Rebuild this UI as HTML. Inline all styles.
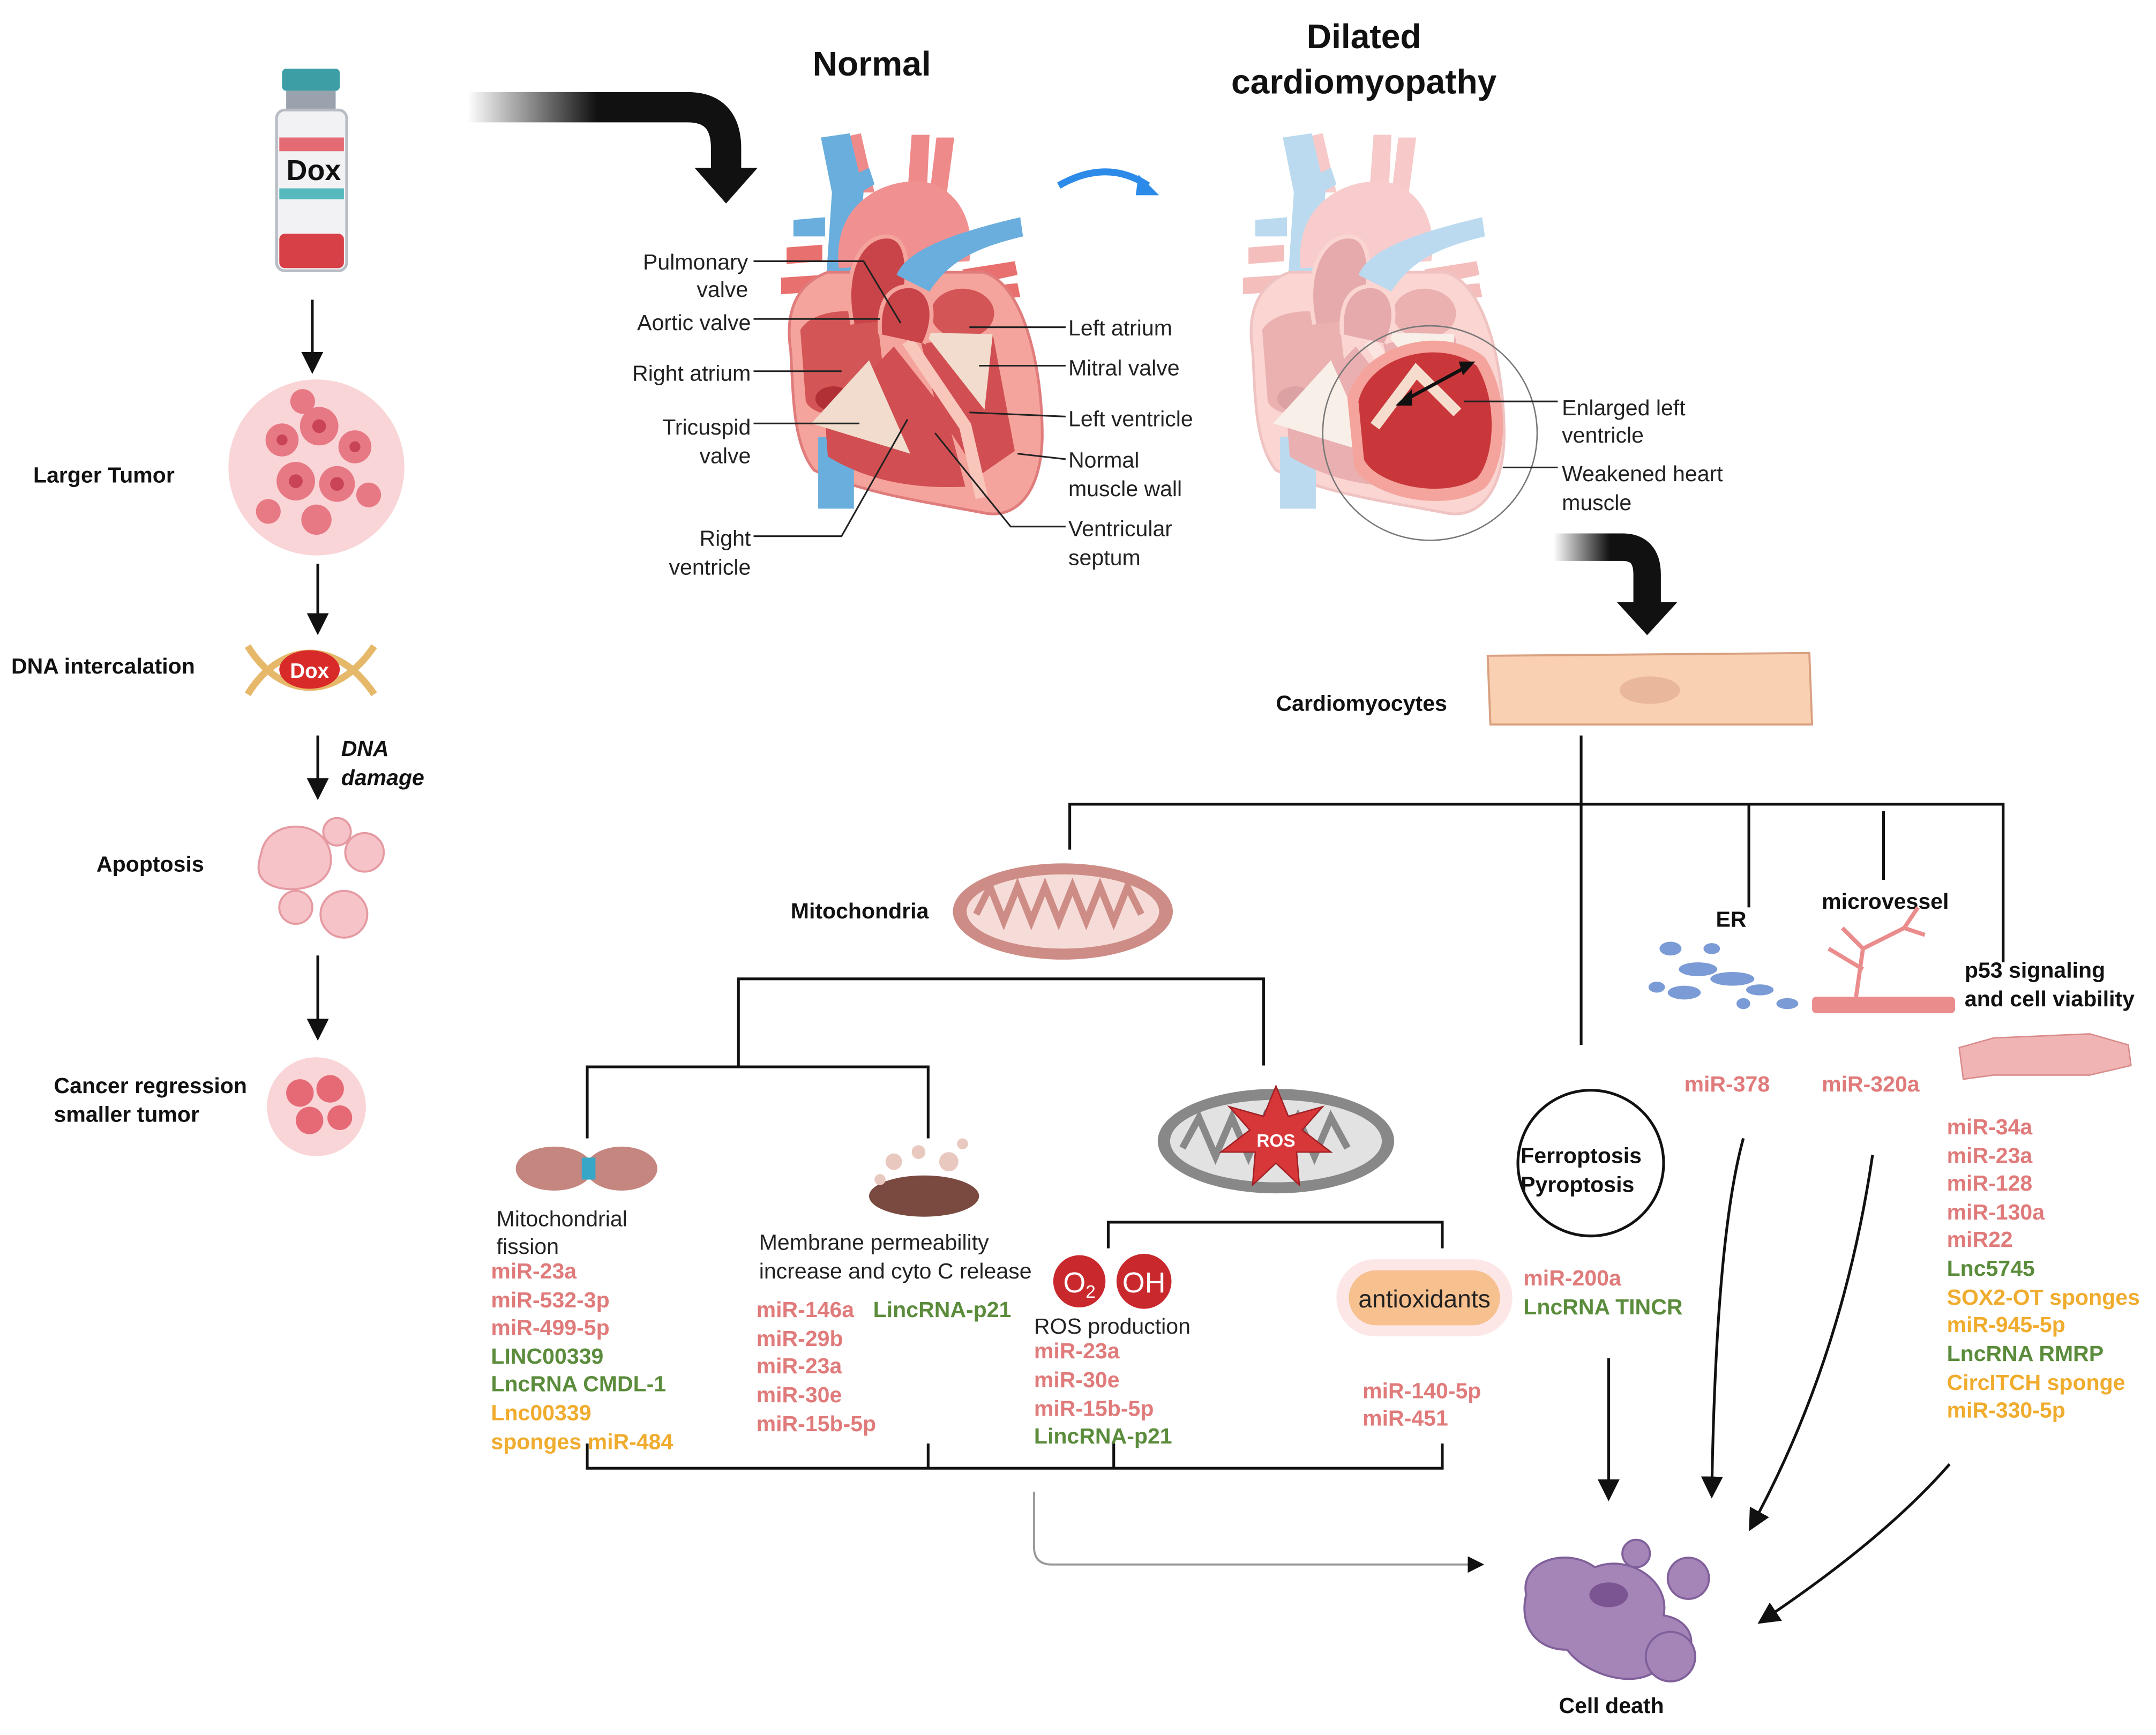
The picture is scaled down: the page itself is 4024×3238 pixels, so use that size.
<!DOCTYPE html>
<html><head><meta charset="utf-8"><style>
html,body{margin:0;padding:0;background:#fff}
svg{display:block}
text{font-family:"Liberation Sans",sans-serif}
.b{font-weight:bold;font-size:16px;fill:#111}
.l{font-size:16px;fill:#222}
.p{font-weight:bold;font-size:16px;fill:#e07b7b}
.g{font-weight:bold;font-size:16px;fill:#5b8c3c}
.o{font-weight:bold;font-size:16px;fill:#f0ac2e}
.ln{stroke:#111;stroke-width:2;fill:none}
.th{stroke:#222;stroke-width:1.2;fill:none}
</style></head><body>
<svg width="4024" height="3238" viewBox="0 0 1568 1262" xmlns="http://www.w3.org/2000/svg">
<defs>
<marker id="a" markerWidth="8" markerHeight="8" refX="7" refY="4" orient="auto"><path d="M0,0 L8,4 L0,8 z" fill="#111"/></marker>
<linearGradient id="gr" x1="0" x2="1"><stop offset="0" stop-color="#111" stop-opacity="0"/><stop offset="0.5" stop-color="#111"/></linearGradient>
<linearGradient id="gr2" x1="0" x2="1"><stop offset="0" stop-color="#111" stop-opacity="0"/><stop offset="0.6" stop-color="#111"/></linearGradient>
<g id="heart">
<!-- arteries top -->
<path d="M620,140 L612,100 L626,97 L636,140 Z" fill="#ef8a8a"/>
<path d="M660,140 L663,98 L676,98 L674,140 Z" fill="#ef8a8a"/>
<path d="M676,142 L681,100 L694,100 L688,145 Z" fill="#ef8a8a"/>
<path d="M572,180 L598,178 L598,190 L572,192 Z" fill="#e8706f"/>
<path d="M568,202 L598,200 L598,212 L568,214 Z" fill="#e8706f"/>
<path d="M700,196 L738,190 L740,200 L702,208 Z" fill="#e8706f"/>
<path d="M700,210 L740,206 L742,216 L702,220 Z" fill="#e8706f"/>
<!-- SVC blue -->
<path d="M597,100 L618,97 L628,140 L622,215 L600,215 L605,140 Z" fill="#6aaedd"/>
<path d="M577,160 L600,158 L600,172 L577,172 Z" fill="#6aaedd"/>
<path d="M620,128 L632,122 L636,134 L626,140 Z" fill="#6aaedd"/>
<!-- aortic arch -->
<path d="M610,195 C605,150 640,130 670,132 C695,135 710,160 705,190 Z" fill="#f19090"/>
<!-- body -->
<path d="M575,255 C570,222 583,205 602,198 L715,198 C742,205 758,260 758,318 C757,360 738,378 715,373 C680,366 630,360 592,342 C576,322 577,285 575,255 Z" fill="#f4a49c" stroke="#e07c7c" stroke-width="2"/>
<!-- IVC -->
<rect x="595" y="318" width="26" height="52" fill="#6aaedd"/>
<!-- chambers -->
<path d="M582,240 C590,226 620,222 638,232 L645,292 C622,305 592,305 586,292 Z" fill="#d35555"/>
<ellipse cx="606" cy="290" rx="13" ry="9" fill="#b03035"/>
<path d="M600,305 L650,252 L688,300 L702,354 C660,356 628,348 602,332 Z" fill="#d14f52"/>
<ellipse cx="700" cy="228" rx="23" ry="18" fill="#d35555"/>
<path d="M670,250 L722,243 L738,328 L712,346 L682,300 Z" fill="#d14f52"/>
<polygon points="590,308 632,262 662,330" fill="#f1dccd"/>
<polygon points="672,242 722,243 716,298" fill="#f1dccd"/>
<path d="M660,248 L702,310 L714,362" stroke="#f9c6bc" stroke-width="9" fill="none"/>
<!-- outflow loops -->
<path d="M620,236 C612,200 625,172 645,172 C662,172 662,200 655,232" fill="#c94448" stroke="#f4a49c" stroke-width="3"/>
<path d="M640,243 C638,215 650,208 662,208 C678,210 682,230 672,250" fill="#c94448" stroke="#f4a49c" stroke-width="3"/>
<!-- pulmonary artery blue -->
<path d="M652,200 C660,180 700,168 742,158 L744,172 C710,180 690,190 676,212 Z" fill="#6aaedd"/>
</g>
</defs>
<rect width="1568" height="1262" fill="#fff"/>

<!-- Vial -->
<rect x="205" y="50" width="42" height="16" rx="3" fill="#3e9ea5"/>
<rect x="208" y="66" width="36" height="14" fill="#9aa3ad"/>
<rect x="201" y="80" width="51" height="117" rx="6" fill="#f2f2f4" stroke="#b8bcc4" stroke-width="2"/>
<rect x="203" y="100" width="47" height="10" fill="#e46b74"/>
<rect x="203" y="137" width="47" height="8" fill="#55b9bd"/>
<rect x="203" y="170" width="47" height="25" rx="4" fill="#d84048"/>
<text x="228" y="131" text-anchor="middle" style="font-weight:bold;font-size:21px;fill:#111">Dox</text>
<line x1="227" y1="218" x2="227" y2="270" class="ln" stroke-width="1.5" marker-end="url(#a)"/>

<!-- tumor -->
<circle cx="230" cy="340" r="64" fill="#f9d5d7"/>
<g fill="#e56a76" opacity="0.85">
<circle cx="205" cy="320" r="12"/><circle cx="232" cy="310" r="14"/><circle cx="258" cy="325" r="12"/><circle cx="215" cy="350" r="14"/><circle cx="245" cy="352" r="13"/><circle cx="230" cy="378" r="11"/><circle cx="195" cy="372" r="9"/><circle cx="268" cy="360" r="9"/><circle cx="220" cy="292" r="9"/></g>
<g fill="#c94455"><circle cx="232" cy="310" r="5"/><circle cx="215" cy="350" r="5"/><circle cx="245" cy="352" r="5"/><circle cx="205" cy="320" r="4"/><circle cx="258" cy="325" r="4"/></g>
<text x="24" y="351" class="b">Larger Tumor</text>
<line x1="231" y1="410" x2="231" y2="460" class="ln" stroke-width="1.5" marker-end="url(#a)"/>

<!-- DNA -->
<path d="M180,470 C205,510 245,510 272,470" stroke="#e6b86a" stroke-width="5" fill="none"/>
<path d="M180,505 C205,465 245,465 272,505" stroke="#e6b86a" stroke-width="5" fill="none"/>
<ellipse cx="225" cy="487" rx="22" ry="14" fill="#d92a2a"/>
<text x="225" y="493" text-anchor="middle" style="font-weight:bold;font-size:15px;fill:#fff">Dox</text>
<text x="8" y="490" class="b">DNA intercalation</text>
<line x1="231" y1="535" x2="231" y2="580" class="ln" stroke-width="1.5" marker-end="url(#a)"/>
<text x="248" y="550" class="b" font-style="italic">DNA</text>
<text x="248" y="571" class="b" font-style="italic">damage</text>

<!-- apoptosis -->
<g fill="#f6c4c8" stroke="#e59aa2" stroke-width="1.5">
<path d="M190,620 C195,595 235,595 240,620 C245,645 215,650 200,645 C185,640 187,630 190,620z"/>
<circle cx="265" cy="620" r="14"/><circle cx="245" cy="605" r="10"/><circle cx="250" cy="665" r="17"/><circle cx="215" cy="660" r="12"/></g>
<text x="70" y="634" class="b">Apoptosis</text>
<line x1="231" y1="695" x2="231" y2="755" class="ln" stroke-width="1.5" marker-end="url(#a)"/>
<text x="39" y="795" class="b">Cancer regression</text>
<text x="39" y="816" class="b">smaller tumor</text>
<circle cx="230" cy="805" r="36" fill="#f9d5d7"/>
<g fill="#e56a76"><circle cx="218" cy="795" r="10"/><circle cx="240" cy="792" r="10"/><circle cx="225" cy="815" r="10"/><circle cx="247" cy="813" r="9"/></g>

<!-- big arrow 1 -->
<path d="M340,78 L500,78 Q528,78 528,108 L528,125" stroke="url(#gr)" stroke-width="22" fill="none"/>
<path d="M505,122 L551,122 L528,148 z" fill="#111"/>
<text x="634" y="55" text-anchor="middle" style="font-weight:bold;font-size:25px;fill:#111">Normal</text>
<text x="992" y="35" text-anchor="middle" style="font-weight:bold;font-size:25px;fill:#111">Dilated</text>
<text x="992" y="68" text-anchor="middle" style="font-weight:bold;font-size:25px;fill:#111">cardiomyopathy</text>
<path d="M770,135 Q805,115 835,135" stroke="#2c8ae8" stroke-width="5" fill="none"/>
<path d="M828,127 L843,142 L826,142 z" fill="#2c8ae8"/>

<!-- normal heart -->
<use href="#heart"/>
<g class="th">
<path d="M548,190 L628,190 L655,235"/><path d="M548,232 L640,232"/><path d="M548,270 L612,270"/>
<path d="M548,308 L625,308"/><path d="M548,390 L612,390 L660,305"/>
<path d="M775,238 L705,238"/><path d="M775,266 L712,266"/><path d="M775,303 L705,300"/><path d="M775,334 L740,330"/><path d="M775,383 L735,383 L680,315"/>
</g>
<g class="l" text-anchor="end">
<text x="544" y="196">Pulmonary</text><text x="544" y="216">valve</text>
<text x="546" y="240">Aortic valve</text><text x="546" y="277">Right atrium</text>
<text x="546" y="316">Tricuspid</text><text x="546" y="337">valve</text>
<text x="546" y="397">Right</text><text x="546" y="418">ventricle</text></g>
<g class="l"><text x="777" y="244">Left atrium</text><text x="777" y="273">Mitral valve</text><text x="777" y="310">Left ventricle</text>
<text x="777" y="340">Normal</text><text x="777" y="361">muscle wall</text><text x="777" y="390">Ventricular</text><text x="777" y="411">septum</text></g>

<!-- dilated heart -->
<g opacity="0.45"><use href="#heart" transform="translate(336,0)"/></g>
<circle cx="1040" cy="315" r="78" fill="none" stroke="#777" stroke-width="1"/>
<path d="M980,290 C990,250 1050,235 1080,260 C1100,290 1095,340 1080,355 C1050,375 995,360 985,340z" fill="#f4a49c"/>
<path d="M988,292 C996,258 1048,246 1074,266 C1090,292 1087,334 1074,348 C1048,364 1000,352 992,334z" fill="#c9373b"/>
<path d="M1000,310 L1030,270 L1060,300" stroke="#f6dccd" stroke-width="8" fill="none"/>
<line x1="1020" y1="292" x2="1068" y2="266" stroke="#111" stroke-width="2.5"/>
<path d="M1015,295 L1027,283 L1027,295z M1073,263 L1061,263 L1064,273z" fill="#111"/>
<path d="M1065,292 L1133,292 M1093,340 L1133,340" class="th"/>
<g class="l"><text x="1136" y="302">Enlarged left</text><text x="1136" y="322">ventricle</text><text x="1136" y="350">Weakened heart</text><text x="1136" y="371">muscle</text></g>

<!-- arrow 2 -->
<path d="M1130,398 L1180,398 Q1198,398 1198,418 L1198,440" stroke="url(#gr2)" stroke-width="20" fill="none"/>
<path d="M1176,438 L1220,438 L1198,462 z" fill="#111"/>
<text x="928" y="517" class="b">Cardiomyocytes</text>
<path d="M1082,477 L1316,475 L1318,527 L1084,527 z" fill="#f9d0b2" stroke="#d9a080" stroke-width="1.5"/>
<ellipse cx="1200" cy="502" rx="22" ry="10" fill="#e9b89a"/>

<!-- tree lines -->
<g class="ln" stroke-width="1.8">
<path d="M1150,535 L1150,760"/><path d="M778,618 L778,585 L1457,585 L1457,700"/><path d="M1272,585 L1272,660"/><path d="M1370,590 L1370,640"/>
<path d="M537,775 L537,712 L919,712 L919,775"/><path d="M427,828 L427,776 L675,776 L675,828"/>
<path d="M806,908 L806,889 L1049,889 L1049,908"/>
<path d="M427,1050 L427,1068 L1049,1068 L1049,1050 M675,1050 L675,1068 M810,1050 L810,1068"/>
</g>
<path d="M752,1085 L752,1125 Q752,1138 765,1138 L1078,1138" stroke="#999" stroke-width="1.5" fill="none" marker-end="url(#a)"/>

<!-- mitochondria -->
<text x="575" y="668" class="b">Mitochondria</text>
<ellipse cx="773" cy="663" rx="80" ry="35" fill="#cd8d86"/>
<ellipse cx="773" cy="663" rx="70" ry="27" fill="#f6dcd8"/>
<path d="M710,665 l10,-20 l10,25 l10,-25 l10,25 l10,-25 l10,25 l10,-25 l10,25 l10,-25 l10,25 l10,-25 l10,20" stroke="#cd8d86" stroke-width="5" fill="none"/>

<!-- fission -->
<ellipse cx="403" cy="850" rx="28" ry="16" fill="#c5867f"/><ellipse cx="452" cy="850" rx="26" ry="16" fill="#c5867f"/>
<rect x="423" y="842" width="10" height="16" fill="#37a7c8"/>
<text x="361" y="892" class="l">Mitochondrial</text><text x="361" y="912" class="l">fission</text>
<text x="357" y="930" class="p">miR-23a</text><text x="357" y="951" class="p">miR-532-3p</text><text x="357" y="971" class="p">miR-499-5p</text>
<text x="357" y="992" class="g">LINC00339</text><text x="357" y="1012" class="g">LncRNA CMDL-1</text>
<text x="357" y="1033" class="o">Lnc00339</text><text x="357" y="1054" class="o">sponges miR-484</text>

<!-- membrane -->
<ellipse cx="672" cy="870" rx="40" ry="15" fill="#7a4a40"/>
<g fill="#e9c8c0"><circle cx="650" cy="845" r="6"/><circle cx="668" cy="838" r="5"/><circle cx="690" cy="845" r="7"/><circle cx="700" cy="832" r="4"/><circle cx="640" cy="858" r="4"/></g>
<text x="552" y="909" class="l">Membrane permeability</text><text x="552" y="930" class="l">increase and cyto C release</text>
<text x="550" y="958" class="p">miR-146a</text><text x="635" y="958" class="g">LincRNA-p21</text>
<text x="550" y="979" class="p">miR-29b</text><text x="550" y="999" class="p">miR-23a</text><text x="550" y="1020" class="p">miR-30e</text><text x="550" y="1041" class="p">miR-15b-5p</text>

<!-- ROS mito -->
<ellipse cx="928" cy="830" rx="86" ry="38" fill="#888"/>
<ellipse cx="928" cy="830" rx="77" ry="30" fill="#e2e2e2"/>
<path d="M860,835 l12,-22 l12,28 l12,-28 l12,28 l12,-28 l12,28 l12,-28 l12,28 l12,-28 l12,22" stroke="#888" stroke-width="5" fill="none"/>
<polygon points="928,790 937,812 962,805 947,822 968,838 943,838 945,862 928,846 911,862 913,838 888,838 909,822 894,805 919,812" fill="#d8373a" stroke="#a02025"/>
<text x="928" y="834" text-anchor="middle" style="font-weight:bold;font-size:13px;fill:#fff">ROS</text>
<circle cx="785" cy="932" r="19" fill="#c9282d"/><circle cx="832" cy="932" r="20" fill="#c9282d"/>
<text x="785" y="940" text-anchor="middle" style="font-size:21px;fill:#fff">O<tspan font-size="13" dy="4">2</tspan></text>
<text x="832" y="940" text-anchor="middle" style="font-size:21px;fill:#fff">OH</text>
<text x="752" y="970" class="l">ROS production</text>
<text x="752" y="988" class="p">miR-23a</text><text x="752" y="1009" class="p">miR-30e</text><text x="752" y="1030" class="p">miR-15b-5p</text><text x="752" y="1050" class="g">LincRNA-p21</text>

<rect x="972" y="916" width="128" height="56" rx="28" fill="#fde6e6"/>
<rect x="981" y="924" width="110" height="40" rx="20" fill="#f6c08f"/>
<text x="1036" y="951" text-anchor="middle" style="font-size:18px;fill:#222">antioxidants</text>
<text x="991" y="1017" class="p">miR-140-5p</text><text x="991" y="1037" class="p">miR-451</text>

<!-- ferroptosis -->
<circle cx="1157" cy="846" r="53" fill="#fff" stroke="#111" stroke-width="2"/>
<text x="1106" y="846" class="b">Ferroptosis</text><text x="1106" y="867" class="b">Pyroptosis</text>
<text x="1108" y="935" class="p">miR-200a</text><text x="1108" y="956" class="g">LncRNA TINCR</text>
<line x1="1170" y1="988" x2="1170" y2="1090" class="ln" marker-end="url(#a)"/>

<!-- ER -->
<text x="1248" y="674" class="b">ER</text>
<g fill="#7b9bd6"><ellipse cx="1215" cy="690" rx="8" ry="5"/><ellipse cx="1235" cy="705" rx="14" ry="5"/><ellipse cx="1260" cy="712" rx="16" ry="5"/><ellipse cx="1225" cy="722" rx="12" ry="5"/><ellipse cx="1280" cy="720" rx="10" ry="4"/><ellipse cx="1300" cy="730" rx="8" ry="4"/><ellipse cx="1245" cy="690" rx="6" ry="4"/><ellipse cx="1205" cy="718" rx="6" ry="4"/><ellipse cx="1268" cy="730" rx="5" ry="4"/></g>
<text x="1325" y="661" class="b">microvessel</text>
<rect x="1318" y="725" width="104" height="12" rx="3" fill="#eb8c8c"/>
<path d="M1350,725 L1355,690 L1340,675 M1355,690 L1385,675 L1400,680 M1385,675 L1395,660 M1355,705 L1330,690" stroke="#eb8c8c" stroke-width="3" fill="none"/>
<text x="1429" y="711" class="b">p53 signaling</text><text x="1429" y="732" class="b">and cell viability</text>
<path d="M1425,762 L1450,755 L1520,752 L1548,760 L1550,775 L1520,782 L1450,782 L1428,785 z" fill="#f0b4b4" stroke="#d98a8a"/>
<text x="1225" y="794" class="p">miR-378</text><text x="1325" y="794" class="p">miR-320a</text>
<g><text x="1416" y="825" class="p">miR-34a</text><text x="1416" y="846" class="p">miR-23a</text><text x="1416" y="866" class="p">miR-128</text><text x="1416" y="887" class="p">miR-130a</text><text x="1416" y="907" class="p">miR22</text>
<text x="1416" y="928" class="g">Lnc5745</text><text x="1416" y="949" class="o">SOX2-OT sponges</text><text x="1416" y="969" class="o">miR-945-5p</text>
<text x="1416" y="990" class="g">LncRNA RMRP</text><text x="1416" y="1011" class="o">CircITCH sponge</text><text x="1416" y="1031" class="o">miR-330-5p</text></g>
<path d="M1268,828 Q1248,900 1245,1088" class="ln" marker-end="url(#a)"/>
<path d="M1362,840 Q1340,990 1273,1112" class="ln" marker-end="url(#a)"/>
<path d="M1418,1065 Q1370,1120 1280,1180" class="ln" marker-end="url(#a)"/>

<!-- cell death -->
<g fill="#a584b8" stroke="#80609a" stroke-width="1.5">
<path d="M1110,1160 C1105,1135 1140,1125 1160,1140 C1185,1130 1215,1150 1210,1175 C1240,1180 1235,1215 1205,1215 C1185,1230 1150,1215 1140,1200 C1115,1200 1105,1180 1110,1160z"/>
<circle cx="1190" cy="1130" r="10"/><circle cx="1228" cy="1148" r="15"/><circle cx="1215" cy="1205" r="18"/></g>
<ellipse cx="1170" cy="1160" rx="14" ry="9" fill="#7a5592"/>
<text x="1172" y="1246" text-anchor="middle" class="b">Cell death</text>
</svg>
</body></html>
